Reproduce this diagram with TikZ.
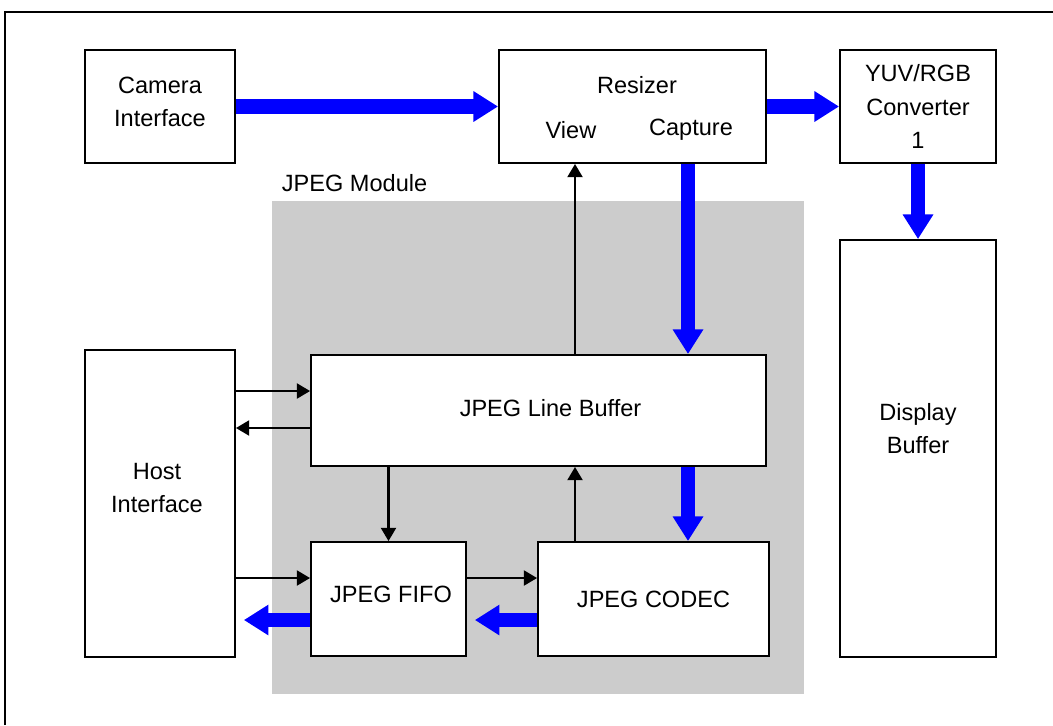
\documentclass[tikz,border=0pt]{standalone}
\usepackage{fontspec}
\setmainfont{Liberation Sans}
\usetikzlibrary{arrows.meta}

\begin{document}
\begin{tikzpicture}[x=0.02cm,y=-0.02cm,line width=1.1pt,
  font=\fontsize{13.4}{19}\selectfont,
  blk/.style={draw,fill=white,inner sep=0pt,align=center},
  txt/.style={inner sep=0pt,align=center},
  bus/.style={draw=blue,line width=8pt,-{Triangle[length=14pt,width=16.5pt]}},
  sig/.style={line width=1.3pt,-{Triangle[length=7.5pt,width=8.5pt]}}]
  \useasboundingbox (0,0) rectangle (1053,725);
  % frame
  \draw (5,725)--(5,12)--(1053,12);
  % jpeg module area
  \fill[black!20] (272,201) rectangle (804,694);
  \node[txt,anchor=west] (modlbl) at (281,183) {JPEG Module};
  % blocks
  \node[blk,minimum width=3cm,minimum height=2.26cm] (cam) at (160,106.5) {};
  \node[txt] (camtxt) at (160,102) {Camera\\Interface};
  \node[blk,minimum width=5.34cm,minimum height=2.26cm] (resizer) at (632.5,106.5) {};
  \node[txt] (rsztxt) at (637,85) {Resizer};
  \node[txt] (view) at (571,130) {View};
  \node[txt] (capture) at (691,130) {Capture};
  \node[blk,minimum width=3.12cm,minimum height=2.26cm] (yuv) at (918,106.5) {YUV/RGB\\Converter\\1};
  \node[blk,minimum width=3.12cm,minimum height=8.34cm] (disp) at (918,448.5) {};
  \node[txt] (disptxt) at (918,428.5) {Display\\Buffer};
  \node[blk,minimum width=3cm,minimum height=6.14cm] (host) at (160,503.5) {};
  \node[txt] (hosttxt) at (157,488) {Host\\Interface};
  \node[blk,minimum width=9.1cm,minimum height=2.22cm] (lbuf) at (538.5,410.5) {};
  \node[txt] (lbuftxt) at (550.5,408) {JPEG Line Buffer};
  \node[blk,minimum width=3.1cm,minimum height=2.28cm] (fifo) at (388.5,599) {};
  \node[txt] (fifotxt) at (391,594) {JPEG FIFO};
  \node[blk,minimum width=4.62cm,minimum height=2.28cm] (codec) at (653.5,599) {JPEG CODEC};
  % image data paths
  \draw[bus] (cam) -- (resizer);
  \draw[bus] (resizer) -- (yuv);
  \draw[bus] (yuv) -- (disp);
  \draw[bus] ([xshift=-0.06cm]capture.center |- resizer.south) -- ([xshift=-0.06cm]capture.center |- lbuf.north);
  \draw[bus] ([xshift=-0.06cm]capture.center |- lbuf.south) -- ([xshift=-0.06cm]capture.center |- codec.north);
  \draw[bus,shorten >=4.5pt] ([yshift=-0.42cm]codec.west) -- ([yshift=-0.42cm]fifo.east);
  \draw[bus,shorten >=4.5pt] ([yshift=-0.42cm]fifo.west) -- ([yshift=-0.42cm]fifo.west -| host.east);
  % control paths
  \draw[sig] ([xshift=0.08cm]view.center |- lbuf.north) -- ([xshift=0.08cm]view.center |- resizer.south);
  \draw[sig] ([xshift=0.08cm]view.center |- codec.north) -- ([xshift=0.08cm]view.center |- lbuf.south);
  \draw[sig] (fifo.north |- lbuf.south) -- (fifo.north);
  \draw[sig] ([yshift=0.39cm]lbuf.west -| host.east) -- ([yshift=0.39cm]lbuf.west);
  \draw[sig] ([yshift=-0.35cm]lbuf.west) -- ([yshift=-0.35cm]lbuf.west -| host.east);
  \draw[sig] ([yshift=0.42cm]fifo.west -| host.east) -- ([yshift=0.42cm]fifo.west);
  \draw[sig] ([yshift=0.42cm]fifo.east) -- ([yshift=0.42cm]codec.west);
\end{tikzpicture}
\end{document}
